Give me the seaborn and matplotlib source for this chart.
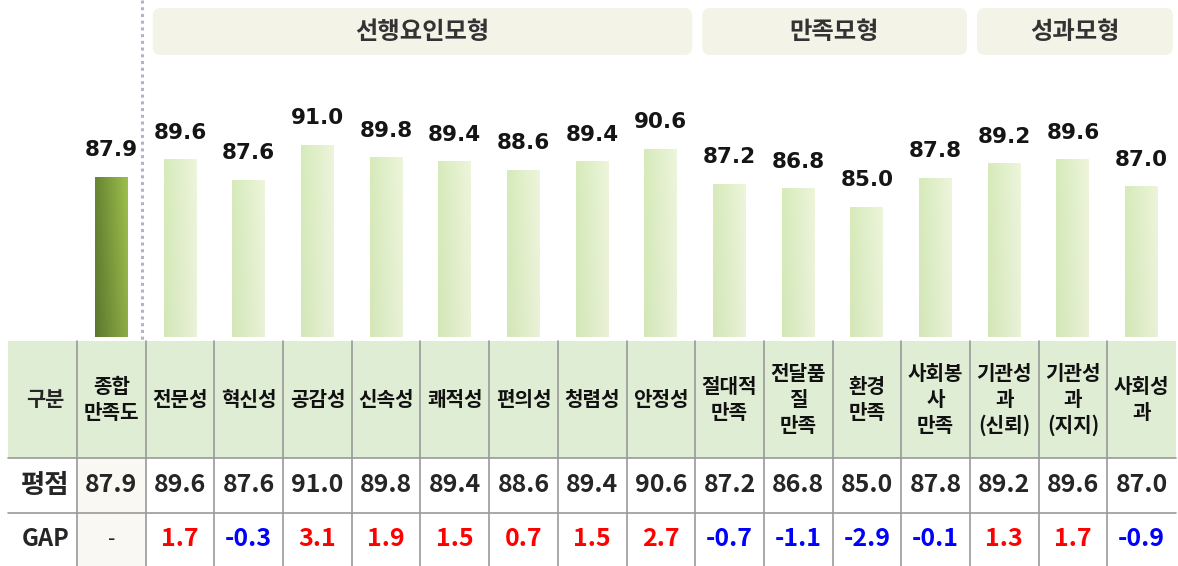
import numpy as np
import pandas as pd
import matplotlib
matplotlib.use('Agg')
import matplotlib.pyplot as plt
from matplotlib.patches import FancyBboxPatch, Rectangle
import seaborn as sns

# 데이터
items = ['종합\n만족도', '전문성', '혁신성', '공감성', '신속성', '쾌적성', '편의성', '청렴성',
         '안정성', '절대적\n만족', '전달품\n질\n만족', '환경\n만족', '사회봉\n사\n만족',
         '기관성\n과\n(신뢰)', '기관성\n과\n(지지)', '사회성\n과']
scores = [87.9, 89.6, 87.6, 91.0, 89.8, 89.4, 88.6, 89.4, 90.6,
          87.2, 86.8, 85.0, 87.8, 89.2, 89.6, 87.0]
gaps = [None, 1.7, -0.3, 3.1, 1.9, 1.5, 0.7, 1.5, 2.7,
        -0.7, -1.1, -2.9, -0.1, 1.3, 1.7, -0.9]
group_names = ['선행요인모형', '만족모형', '성과모형']
group_first = [1, 9, 13]
group_last = [8, 12, 15]

df = pd.DataFrame({'item': items, 'score': scores})

sns.set_style('white')
plt.rcParams['font.family'] = ['Noto Sans CJK KR', 'DejaVu Sans']

W, H = 1178, 566
fig = plt.figure(figsize=(W / 100, H / 100), dpi=100)

# 배경용 축 (픽셀 좌표)
bg = fig.add_axes([0, 0, 1, 1])
bg.set_xlim(0, W)
bg.set_ylim(H, 0)
bg.set_axis_off()

tab_left, tab_right = 77, 1176
col_w = (tab_right - tab_left) / len(items)
bar_bottom_px = 337

# 막대 축
ax = fig.add_axes([tab_left / W, 1 - bar_bottom_px / H, (tab_right - tab_left) / W, bar_bottom_px / H])
sns.barplot(data=df, x='item', y='score', ax=ax, width=0.48, color='#d8ebbf')
ymin = 72.4
ax.set_ylim(ymin, ymin + bar_bottom_px / 10.33)
ax.set_xlim(-0.5, len(items) - 0.5)
ax.set_axis_off()

# 그라데이션 채우기
for i, p in enumerate(ax.patches):
    x0, w, h = p.get_x(), p.get_width(), p.get_height()
    gx = np.linspace(0, 1, 60)[None, :, None]
    gy = np.linspace(0, 1, 60)[:, None, None]
    if i == 0:
        left = np.array([0.40, 0.52, 0.20]); right = np.array([0.62, 0.75, 0.30])
        img = (left + (right - left) * gx) * (0.90 + 0.10 * gy)
    else:
        left = np.array([0.84, 0.92, 0.73]); right = np.array([0.93, 0.96, 0.86])
        img = (left + (right - left) * gx) * (0.985 + 0.015 * gy)
    img = np.clip(img, 0, 1)
    im = ax.imshow(img, extent=[x0, x0 + w, ymin, h], aspect='auto',
                   origin='lower', interpolation='bilinear', zorder=2)
    im.set_clip_path(p)
    p.set_facecolor('none')
    p.set_edgecolor('none')
    ax.annotate(f'{scores[i]:.1f}', (i, h), xytext=(0, 12), textcoords='offset points',
                ha='center', va='bottom', fontsize=15.5, fontweight='bold',
                color='#151515', family='DejaVu Sans')

# 점선 구분선
bg.plot([142, 142], [0, 340], color='#b4b2c8', lw=2.2, ls=(0, (1, 1.2)))

# 그룹 헤더 상자
for name, a, b in zip(group_names, group_first, group_last):
    x0 = tab_left + a * col_w + 7
    x1 = tab_left + (b + 1) * col_w - 3
    box = FancyBboxPatch((x0, 8), x1 - x0, 47, boxstyle='round,pad=0,rounding_size=8',
                         fc='#f4f3e8', ec='none')
    bg.add_patch(box)
    bg.text((x0 + x1) / 2, 32, name, ha='center', va='center', fontsize=17.5,
            fontweight='bold', color='#333333')

# 표
hdr_top, hdr_bot, row1_bot, row2_bot = 341, 458, 513, 566
bg.add_patch(Rectangle((8, hdr_top), tab_right - 8, hdr_bot - hdr_top, fc='#e0edd5', ec='none'))
bg.add_patch(Rectangle((tab_left, hdr_bot), col_w, row2_bot - hdr_bot, fc='#f9f8f3', ec='none'))
line_c = '#9a9a9a'
for y in [hdr_bot, row1_bot]:
    bg.plot([8, tab_right], [y, y], color=line_c, lw=1.2)
for k in range(len(items)):
    xx = tab_left + k * col_w
    bg.plot([xx, xx], [hdr_top, row2_bot], color=line_c, lw=1.2)

mid_h = (hdr_top + hdr_bot) / 2
mid_1 = (hdr_bot + row1_bot) / 2
mid_2 = (row1_bot + row2_bot) / 2
lx = (8 + tab_left) / 2 + 3
bg.text(lx, mid_h, '구분', ha='center', va='center', fontsize=15, fontweight='bold')
bg.text(lx, mid_1, '평점', ha='center', va='center', fontsize=19, fontweight='bold')
bg.text(lx, mid_2, 'GAP', ha='center', va='center', fontsize=17, fontweight='bold')

for k, (it, sc, gp) in enumerate(zip(items, scores, gaps)):
    cx = tab_left + (k + 0.5) * col_w
    bg.text(cx, mid_h, it, ha='center', va='center', fontsize=14.5, fontweight='bold',
            linespacing=1.3, color='#111111')
    bg.text(cx, mid_1, f'{sc:.1f}', ha='center', va='center', fontsize=18, fontweight='bold')
    if gp is None:
        bg.text(cx, mid_2, '-', ha='center', va='center', fontsize=15)
    else:
        c = '#ff0000' if gp > 0 else '#0000ff'
        bg.text(cx, mid_2, f'{gp:.1f}', ha='center', va='center', fontsize=18,
                fontweight='bold', color=c)

fig.savefig('out.png', dpi=100)
